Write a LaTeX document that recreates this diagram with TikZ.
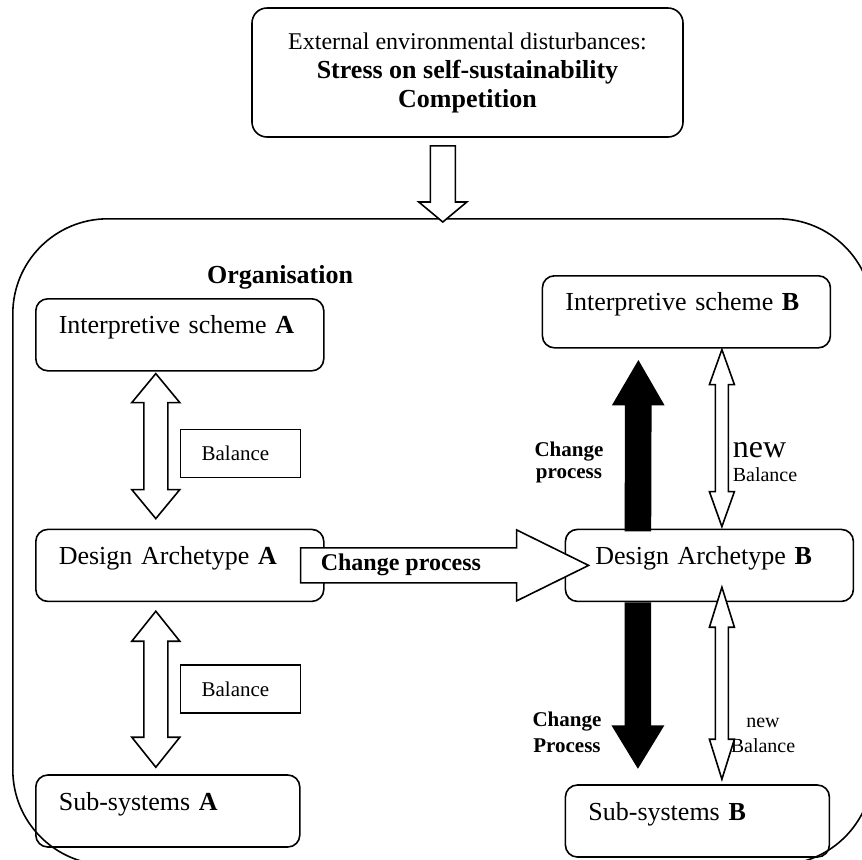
\documentclass[tikz,border=0pt]{standalone}
\usepackage{fontspec}
\setmainfont{Liberation Serif}
\usetikzlibrary{positioning, calc}

% block arrow outline: [style] tail, tip, half shaft, half head, head length
\newcommand{\blockarrow}[6][hollowarrow]{%
  \coordinate (hb) at ($(#3)!#6!(#2)$);
  \draw[#1] ($(#2)!#4!90:(#3)$) -- ($(hb)!#4!90:(#3)$) -- ($(hb)!#5!90:(#3)$) -- (#3)
     -- ($(hb)!#5!-90:(#3)$) -- ($(hb)!#4!-90:(#3)$) -- ($(#2)!#4!-90:(#3)$) -- cycle;
}
% the same with a head at both ends: tip, tip, half shaft, half head, head length
\newcommand{\twowayarrow}[5]{%
  \coordinate (ha) at ($(#1)!#5!(#2)$);
  \coordinate (hb) at ($(#2)!#5!(#1)$);
  \draw[hollowarrow] (#1) -- ($(ha)!#4!90:(#2)$) -- ($(ha)!#3!90:(#2)$) -- ($(hb)!#3!-90:(#1)$)
     -- ($(hb)!#4!-90:(#1)$) -- (#2) -- ($(hb)!#4!90:(#1)$) -- ($(hb)!#3!90:(#1)$)
     -- ($(ha)!#3!-90:(#2)$) -- ($(ha)!#4!-90:(#2)$) -- cycle;
}

\begin{document}
\begin{tikzpicture}
            [x=0.5pt, y=-0.5pt, line width=0.8pt,
            envbox/.style={draw, rounded corners=7.5pt, minimum width=215.5pt, minimum height=64.5pt,
                align=center, inner sep=0pt, font=\fontsize{13}{14.5}\selectfont},
            stagebox/.style={draw, rounded corners=6pt, align=left, text width=#1, inner xsep=11.5pt,
                inner ysep=0pt, text height=17.5pt, text depth=18.5pt, font=\fontsize{13}{15}\selectfont},
            stagebox/.default=121pt,
            balbox/.style={draw, align=left, text width=39pt, inner xsep=10.5pt, inner ysep=0pt,
                minimum height=24pt, font=\fontsize{10.5}{12}\selectfont},
            hollowarrow/.style={draw, fill=white, line join=miter},
            blackarrow/.style={draw, fill=black, line join=miter}]
            \useasboundingbox (0,0) rectangle (862,859);

            \node[draw, rounded corners=47.5pt, minimum width=430pt, minimum height=323pt,
                anchor=north west]  (org)   at (12,218) {};

            \node[envbox]  (env)  at (467.5,72.5)
            {{\fontsize{12}{14.5}\selectfont External environmental disturbances:}\\
                \textbf{Stress on self-sustainability}\\
                \textbf{Competition}
            };

            \node[stagebox, anchor=north west]  (isA)   at (35,298) {Interpretive scheme \textbf{A}};
            \node[stagebox]  (daA)   [below=78.5pt of isA] {Design Archetype \textbf{A}};
            \node[stagebox=109pt]  (subA)  [below=86pt of daA.south west, anchor=north west] {Sub-systems \textbf{A}};

            \node[stagebox=114pt, inner xsep=15pt]  (daB)   [right=120pt of daA] {Design Archetype \textbf{B}};
            \node[stagebox]  (isB)   [above=90pt of daB.north west, anchor=south west, xshift=-11.5pt] {Interpretive scheme \textbf{B}};
            \node[stagebox=109pt]  (subB)  [below=91pt of daB.south west, anchor=north west] {Sub-systems \textbf{B}};

            \node[balbox]  (balance1)  [below=28.5pt of isA.south, anchor=north west] {Balance};
            \node[balbox]  (balance2)  [below=31pt of daA.south, anchor=north west] {Balance};

            \coordinate (in)  at ($(org.north |- env.south)+(0,8)$);
            \coordinate (out) at ($(org.north)+(0,4)$);
            \blockarrow{in}{out}{6.25pt}{12pt}{10pt}

            \coordinate (a1) at ($(isA.south)+(-24,2)$);
            \coordinate (a2) at ($(daA.north)+(-24,-10)$);
            \twowayarrow{a1}{a2}{6pt}{12pt}{14.5pt}
            \coordinate (a3) at ($(daA.south)+(-24,9)$);
            \coordinate (a4) at ($(subA.north)+(-12,-7)$);
            \twowayarrow{a3}{a4}{6pt}{12pt}{15pt}

            \coordinate (c1) at ($(daA.east)+(-24,0)$);
            \coordinate (c2) at ($(daB.west)+(24,0)$);
            \blockarrow{c1}{c2}{8.75pt}{17.75pt}{36pt}

            \coordinate (u1) at ($(daB.north)+(-71.5,2)$);
            \coordinate (u2) at ($(isB.south)+(-48,13)$);
            \blockarrow[blackarrow]{u1}{u2}{6.25pt}{12.5pt}{21.5pt}
            \coordinate (d1) at ($(daB.south)+(-71.5,1)$);
            \coordinate (d2) at ($(subB.north)+(-59.5,-17)$);
            \blockarrow[blackarrow]{d1}{d2}{6.25pt}{12.5pt}{20.5pt}

            \coordinate (b1) at ($(isB.south)+(35.5,1)$);
            \coordinate (b2) at ($(daB.north)+(12.5,-2)$);
            \twowayarrow{b1}{b2}{3.25pt}{6.25pt}{17.5pt}
            \coordinate (b3) at ($(daB.south)+(12.5,-15)$);
            \coordinate (b4) at ($(subB.north)+(24.5,-5)$);
            \twowayarrow{b3}{b4}{3.25pt}{6.25pt}{20pt}

            \node[anchor=base, font=\bfseries\fontsize{13}{15}\selectfont]  (orgname)  at (280,283) {Organisation};
            \node[anchor=base west, inner sep=0pt, font=\bfseries\fontsize{12}{14}\selectfont]  (change)  at (320,570) {Change process};
            \node[align=center, font=\bfseries\fontsize{10.5}{11}\selectfont]  (changeup)  at (569,462) {Change\\process};
            \node[align=left, anchor=west, inner sep=0pt, font=\fontsize{10}{12}\selectfont]  (newup)  at (732,462)
                {{\fontsize{16}{12}\selectfont new}\\Balance};
            \node[align=center, font=\bfseries\fontsize{10.5}{13}\selectfont]  (changedown)  at (567,732) {Change\\Process};
            \node[align=center, font=\fontsize{10}{12.5}\selectfont]  (newdown)  at (763,735) {new\\Balance};
\end{tikzpicture}
\end{document}
